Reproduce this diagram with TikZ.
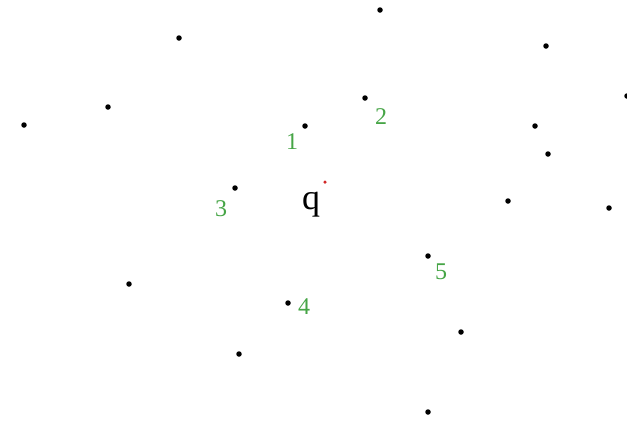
\documentclass[tikz,border=0pt]{standalone}
\usepackage{fontspec}
\setmainfont{Liberation Serif}
\definecolor{lblgreen}{RGB}{70,165,70}
\definecolor{qred}{RGB}{210,40,40}
\begin{document}
\begin{tikzpicture}[x=1pt,y=-1pt,
  dot/.style={circle,fill=black,inner sep=0pt,minimum size=5.5pt},
  qdot/.style={circle,fill=qred,inner sep=0pt,minimum size=3.5pt},
  lbl/.style={text=lblgreen,inner sep=0pt,font=\fontsize{24}{24}\selectfont},
  qlbl/.style={text=black,inner sep=0pt,anchor=base,font=\fontsize{36}{36}\selectfont}]
\useasboundingbox[fill=white] (0,0) rectangle (627,421);
% points
\node[dot] (a) at (380,10) {};
\node[dot] (b) at (179,38) {};
\node[dot] (c) at (546,46) {};
\node[dot] (d) at (108,107) {};
\node[dot] (e) at (24,125) {};
\node[dot] (n2) at (365,98) {};
\node[dot] (n1) at (305,126) {};
\node[dot] (f) at (535,126) {};
\node[dot] (g) at (548,154) {};
\node[dot] (h) at (627,96) {};
\node[dot] (n3) at (235,188) {};
\node[dot] (i) at (508,201) {};
\node[dot] (j) at (609,208) {};
\node[dot] (n5) at (428,256) {};
\node[dot] (k) at (129,284) {};
\node[dot] (n4) at (288,303) {};
\node[dot] (l) at (461,332) {};
\node[dot] (m) at (239,354) {};
\node[dot] (o) at (428,412) {};
% query
\node[qdot] (qp) at (325,182) {};
\node[qlbl] (ql) at (311,209) {q};
% labels
\node[lbl] (l1) at (292,142) {1};
\node[lbl] (l2) at (381,117) {2};
\node[lbl] (l3) at (221,209) {3};
\node[lbl] (l4) at (304,307) {4};
\node[lbl] (l5) at (441,272) {5};
\end{tikzpicture}
\end{document}
